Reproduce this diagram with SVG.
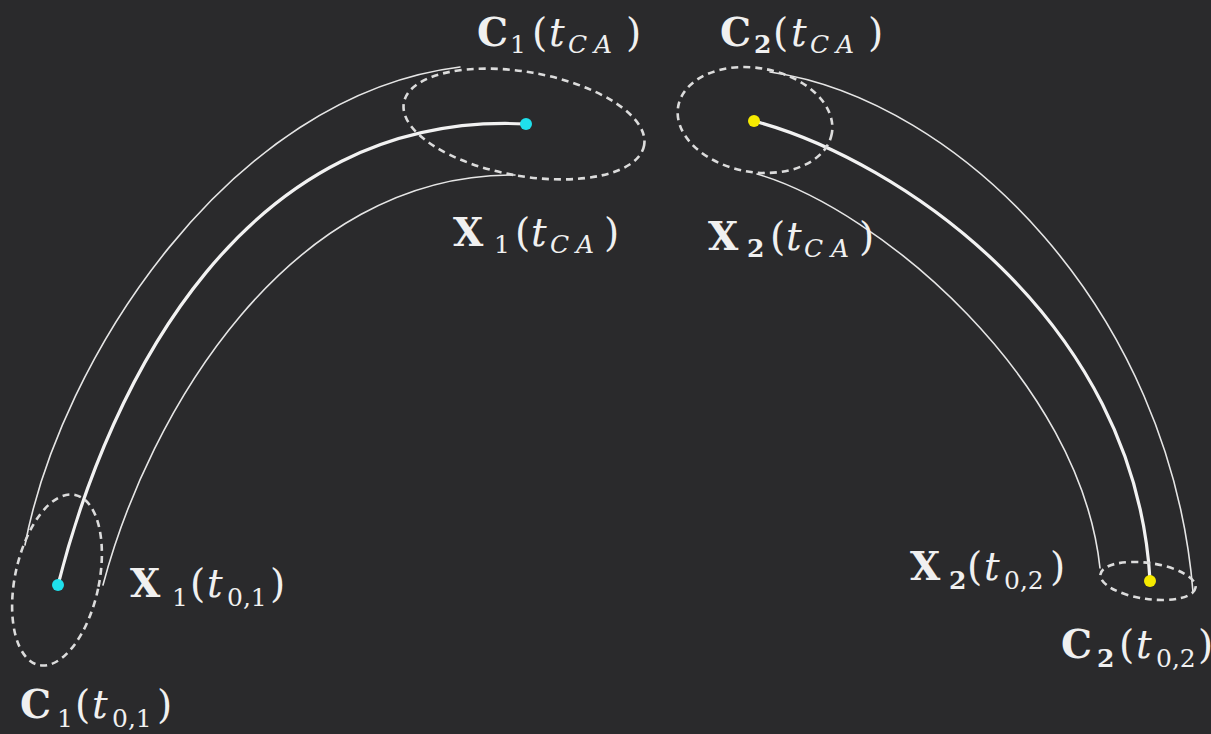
<svg xmlns="http://www.w3.org/2000/svg" width="1211" height="734" viewBox="0 0 1211 734">
<style>
.bg{fill:#2a2a2c}
.traj{fill:none;stroke:#f2f2f2;stroke-width:3.2;stroke-linecap:round}
.bound{fill:none;stroke:#e6e6e6;stroke-width:1.6;stroke-linecap:round}
.cov{fill:none;stroke:#dcdcdc;stroke-width:2.6;stroke-dasharray:7 5}
.lbl{font-family:"DejaVu Serif","Liberation Serif",serif;font-size:39px;fill:#f0f0f0}
.b{font-weight:bold}
.i{font-style:italic}
.s{font-size:25px}
.cyan{fill:#1fe0ec}
.yel{fill:#f5ea00}
</style>
<rect class="bg" x="0" y="0" width="1211" height="734"/>
<g id="connectors">
<path id="traj1" class="traj" d="M58,585 C110,380 245,110 526,124"/>
<path id="outer1" class="bound" d="M25,545 C60,360 230,95 460,67"/>
<path id="inner1" class="bound" d="M103,585 C148,415 288,173 515,175"/>
<path id="traj2" class="traj" d="M754,121 C900,160 1135,320 1150,580"/>
<path id="outer2" class="bound" d="M770,72 C960,100 1170,310 1193,592"/>
<path id="inner2" class="bound" d="M757,174 C880,210 1080,380 1100,568"/>
</g>
<g id="cov1-ca"><ellipse class="cov" cx="524" cy="124" rx="122" ry="52" transform="rotate(10 524 124)"/></g>
<g id="cov2-ca"><ellipse class="cov" cx="755" cy="120" rx="78" ry="52" transform="rotate(10 755 120)"/></g>
<g id="cov1-0"><ellipse class="cov" cx="57" cy="580" rx="42" ry="87" transform="rotate(12 57 580)"/></g>
<g id="cov2-0"><ellipse class="cov" cx="1148" cy="581" rx="48" ry="18" transform="rotate(8 1148 581)"/></g>
<g id="x1-ca"><circle class="cyan" cx="526" cy="124" r="6"/></g>
<g id="x1-0"><circle class="cyan" cx="58" cy="585" r="6"/></g>
<g id="x2-ca"><circle class="yel" cx="754" cy="121" r="6"/></g>
<g id="x2-0"><circle class="yel" cx="1150" cy="581" r="6"/></g>
<g id="labels">
<text class="lbl" y="46"><tspan class="b" x="477">C</tspan><tspan class="s" x="510" y="53">1</tspan><tspan x="532" y="46">(</tspan><tspan class="i" x="549">t</tspan><tspan class="i s" x="568" y="53">C</tspan><tspan class="i s" x="594">A</tspan><tspan x="626" y="46">)</tspan></text>
<text class="lbl" y="46"><tspan class="b" x="720">C</tspan><tspan class="s b" x="754" y="53">2</tspan><tspan x="773" y="46">(</tspan><tspan class="i" x="791">t</tspan><tspan class="i s" x="810" y="53">C</tspan><tspan class="i s" x="836">A</tspan><tspan x="868" y="46">)</tspan></text>
<text class="lbl" y="246"><tspan class="b" x="453">X</tspan><tspan class="s" x="494" y="253">1</tspan><tspan x="515" y="246">(</tspan><tspan class="i" x="531">t</tspan><tspan class="i s" x="550" y="253">C</tspan><tspan class="i s" x="576">A</tspan><tspan x="604" y="246">)</tspan></text>
<text class="lbl" y="250"><tspan class="b" x="708">X</tspan><tspan class="s b" x="747" y="257">2</tspan><tspan x="770" y="250">(</tspan><tspan class="i" x="786">t</tspan><tspan class="i s" x="804" y="257">C</tspan><tspan class="i s" x="831">A</tspan><tspan x="859" y="250">)</tspan></text>
<text class="lbl" y="597"><tspan class="b" x="130">X</tspan><tspan class="s" x="172" y="606">1</tspan><tspan x="190" y="597">(</tspan><tspan class="i" x="207">t</tspan><tspan class="s" x="227" y="606">0,1</tspan><tspan x="270" y="597">)</tspan></text>
<text class="lbl" y="718"><tspan class="b" x="20">C</tspan><tspan class="s" x="57" y="727">1</tspan><tspan x="75" y="718">(</tspan><tspan class="i" x="92">t</tspan><tspan class="s" x="112" y="727">0,1</tspan><tspan x="157" y="718">)</tspan></text>
<text class="lbl" y="580"><tspan class="b" x="910">X</tspan><tspan class="s b" x="949" y="589">2</tspan><tspan x="967" y="580">(</tspan><tspan class="i" x="984">t</tspan><tspan class="s" x="1004" y="589">0,2</tspan><tspan x="1050" y="580">)</tspan></text>
<text class="lbl" y="658"><tspan class="b" x="1061">C</tspan><tspan class="s b" x="1097" y="667">2</tspan><tspan x="1119" y="658">(</tspan><tspan class="i" x="1136">t</tspan><tspan class="s" x="1156" y="667">0,2</tspan><tspan x="1198" y="658">)</tspan></text>
</g>
</svg>
